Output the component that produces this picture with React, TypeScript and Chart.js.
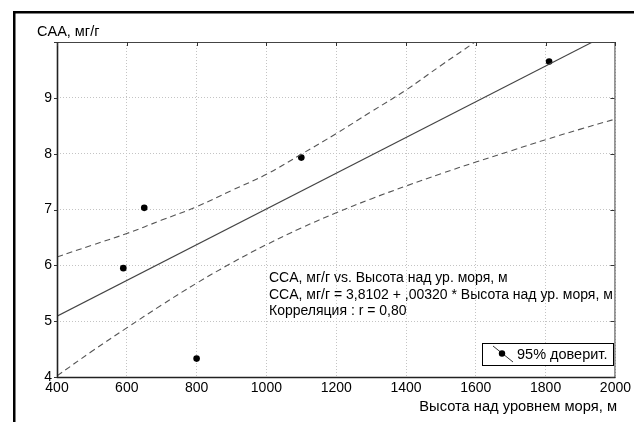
import React, { useEffect, useRef } from "react";
import { Chart, registerables } from "chart.js";

Chart.register(...registerables);

// Observed points
const pointsX = [590, 650, 800, 1100, 1810];
const pointsY = [5.95, 7.03, 4.33, 7.93, 9.65];

// Regression line endpoints (y = 3.8102 + 0.0032 x)
const fitX = [400, 2000];
const fitY = [5.09, 10.21];

// 95% confidence band
const bandX = [400, 500, 600, 700, 800, 900, 1000, 1100, 1200, 1300, 1400, 1500, 1600, 1700, 1800, 1900, 2000];
const upperY = [6.15, 6.36, 6.57, 6.81, 7.05, 7.34, 7.63, 7.99, 8.36, 8.75, 9.14, 9.58, 10.01, 10.45, 10.9, 11.35, 11.8];
const lowerY = [4.02, 4.46, 4.88, 5.29, 5.68, 6.04, 6.37, 6.67, 6.94, 7.19, 7.42, 7.64, 7.85, 8.05, 8.25, 8.44, 8.62];

const xTicks = [400, 600, 800, 1000, 1200, 1400, 1600, 1800, 2000];
const yTicks = [4, 5, 6, 7, 8, 9, 10];

const yTitle = "CAA, мг/г";
const xTitle = "Высота над уровнем моря, м";
const noteLines = [
  "CCA, мг/г vs. Высота над ур. моря, м",
  "CCA, мг/г = 3,8102 + ,00320 * Высота над ур. моря, м",
  "Корреляция : r = 0,80",
];
const legendText = "95% доверит.";

const FONT = "'Liberation Sans', Arial, sans-serif";

const decor = {
  id: "decor",
  afterDraw(chart: any) {
    const ctx = chart.ctx as CanvasRenderingContext2D;
    const { left, right, top, bottom } = chart.chartArea;
    const xs = chart.scales.x;
    const ys = chart.scales.y;
    ctx.save();
    // plot border
    ctx.strokeStyle = "#444";
    ctx.lineWidth = 1;
    ctx.strokeRect(left + 0.5, top + 0.5, right - left - 1, bottom - top);
    // left & bottom axis thicker
    ctx.strokeStyle = "#222";
    ctx.lineWidth = 1.6;
    ctx.beginPath();
    ctx.moveTo(left + 0.5, top);
    ctx.lineTo(left + 0.5, bottom + 0.5);
    ctx.lineTo(right, bottom + 0.5);
    ctx.stroke();
    // tick marks
    ctx.lineWidth = 1;
    ctx.strokeStyle = "#333";
    ctx.beginPath();
    xTicks.forEach((v) => {
      const px = Math.round(xs.getPixelForValue(v)) + 0.5;
      ctx.moveTo(px, top);
      ctx.lineTo(px, top + 4);
    });
    yTicks.forEach((v) => {
      const py = Math.round(ys.getPixelForValue(v)) + 0.5;
      ctx.moveTo(right - 1, py);
      ctx.lineTo(right - 5, py);
      ctx.moveTo(left, py);
      ctx.lineTo(left - 3, py);
    });
    ctx.stroke();

    // outer frame (top & left)
    ctx.fillStyle = "#000";
    ctx.fillRect(13, 11, chart.width - 13, 2.5);
    ctx.fillRect(13, 11, 2.5, chart.height - 11);

    // titles
    ctx.fillStyle = "#000";
    ctx.font = `14.5px ${FONT}`;
    ctx.textBaseline = "middle";
    ctx.textAlign = "left";
    ctx.fillText(yTitle, 37, 32);
    ctx.font = `14.7px ${FONT}`;
    ctx.textAlign = "right";
    ctx.fillText(xTitle, 617, 407);

    // annotation
    ctx.font = `14px ${FONT}`;
    ctx.textAlign = "left";
    noteLines.forEach((t, i) => ctx.fillText(t, 269, 278.5 + i * 16.5));

    // legend box
    ctx.fillStyle = "#fff";
    ctx.fillRect(482, 343, 132, 23);
    ctx.strokeStyle = "#000";
    ctx.lineWidth = 1;
    ctx.strokeRect(482.5, 343.5, 131, 22);
    ctx.strokeStyle = "#333";
    ctx.beginPath();
    ctx.moveTo(493, 346);
    ctx.lineTo(513, 362);
    ctx.stroke();
    ctx.fillStyle = "#000";
    ctx.beginPath();
    ctx.arc(502, 353.5, 3.2, 0, Math.PI * 2);
    ctx.fill();
    ctx.font = `14.5px ${FONT}`;
    ctx.fillText(legendText, 517, 354.5);
    ctx.restore();
  },
};

export default function App() {
  const ref = useRef<HTMLCanvasElement | null>(null);
  useEffect(() => {
    if (!ref.current) return;
    const chart = new Chart(ref.current, {
      type: "scatter",
      data: {
        datasets: [
          {
            type: "line",
            data: bandX.map((x, i) => ({ x, y: upperY[i] })),
            borderColor: "#555",
            borderWidth: 1.1,
            borderDash: [6, 4],
            pointRadius: 0,
            tension: 0.4,
            clip: 0,
          } as any,
          {
            type: "line",
            data: bandX.map((x, i) => ({ x, y: lowerY[i] })),
            borderColor: "#555",
            borderWidth: 1.1,
            borderDash: [6, 4],
            pointRadius: 0,
            tension: 0.4,
            clip: 0,
          } as any,
          {
            type: "line",
            data: fitX.map((x, i) => ({ x, y: fitY[i] })),
            borderColor: "#444",
            borderWidth: 1.1,
            pointRadius: 0,
            clip: 0,
          } as any,
          {
            type: "scatter",
            data: pointsX.map((x, i) => ({ x, y: pointsY[i] })),
            backgroundColor: "#000",
            borderColor: "#000",
            pointRadius: 3.3,
            borderWidth: 0,
          },
        ],
      },
      options: {
        animation: false,
        responsive: false,
        devicePixelRatio: 1,
        layout: { padding: { left: 0, right: 18, top: 42, bottom: 0 } },
        plugins: { legend: { display: false }, tooltip: { enabled: false } },
        scales: {
          x: {
            type: "linear",
            min: 400,
            max: 2000,
            afterBuildTicks: (s: any) => {
              s.ticks = xTicks.map((v) => ({ value: v }));
            },
            afterFit: (s: any) => {
              s.height = 45;
            },
            ticks: {
              color: "#000",
              font: { family: FONT, size: 14 },
              padding: 3,
              maxRotation: 0,
              autoSkip: false,
              callback: (v: any) => String(v),
            },
            grid: { color: "#c4c4c4", drawTicks: false, lineWidth: 1 },
            border: { display: false, dash: [1, 2] },
          },
          y: {
            type: "linear",
            min: 4,
            max: 10,
            afterBuildTicks: (s: any) => {
              s.ticks = yTicks.map((v) => ({ value: v }));
            },
            afterFit: (s: any) => {
              s.width = 57;
            },
            ticks: {
              color: "#000",
              font: { family: FONT, size: 14 },
              padding: 5,
              callback: (v: any) => (v === 10 ? "" : String(v)),
            },
            grid: { color: "#c4c4c4", drawTicks: false, lineWidth: 1 },
            border: { display: false, dash: [1, 2] },
          },
        },
      },
      plugins: [decor],
    });
    return () => chart.destroy();
  }, []);
  return (
    <div style={{ position: "absolute", left: 0, top: 0, width: 634, height: 422, background: "#fff" }}>
      <canvas ref={ref} width={634} height={422} style={{ display: "block" }} />
    </div>
  );
}
